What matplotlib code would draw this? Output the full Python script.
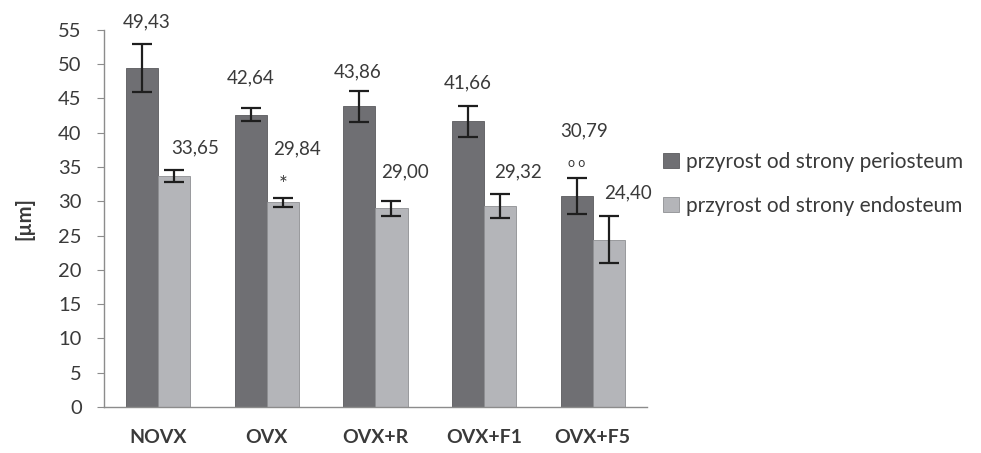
import numpy as np
import matplotlib.pyplot as plt

# growth measurements per group
groups = ['NOVX', 'OVX', 'OVX+R', 'OVX+F1', 'OVX+F5']
periosteum = [49.43, 42.64, 43.86, 41.66, 30.79]
periosteum_err = [3.5, 0.95, 2.25, 2.3, 2.6]
endosteum = [33.65, 29.84, 29.00, 29.32, 24.40]
endosteum_err = [0.9, 0.7, 1.1, 1.8, 3.4]
yticks = list(range(0, 56, 5))

# value label offsets (points) above the error bar tops
peri_off = [(3, 16), (0, 22), (-1, 14), (0, 16), (5, 34)]
endo_off = [(15, 16), (10, 35), (10, 21), (13, 16), (14, 17)]

dark = '#6f6f73'
light = '#b4b5b9'
txt = '#3a3a3a'

plt.rcParams['font.family'] = ['Lato', 'DejaVu Sans']

fig = plt.figure(figsize=(9.81, 4.53), dpi=100)
ax = fig.add_axes([0.106, 0.1015, 0.5535, 0.8325])

x = np.arange(len(groups))
w = 0.295
ekw = dict(ecolor='#1e1e1e', elinewidth=1.6, capsize=7, capthick=1.6)
b1 = ax.bar(x - w / 2, periosteum, w, yerr=periosteum_err, color=dark,
            edgecolor='#5a5a5e', linewidth=0.6, error_kw=ekw,
            label='przyrost od strony periosteum')
b2 = ax.bar(x + w / 2, endosteum, w, yerr=endosteum_err, color=light,
            edgecolor='#8e8f93', linewidth=0.6, error_kw=ekw,
            label='przyrost od strony endosteum')

for i in range(len(groups)):
    ax.annotate(f'{periosteum[i]:.2f}'.replace('.', ','),
                (x[i] - w / 2, periosteum[i] + periosteum_err[i]),
                xytext=peri_off[i], textcoords='offset points',
                ha='center', va='center', fontsize=13.5, color=txt)
    ax.annotate(f'{endosteum[i]:.2f}'.replace('.', ','),
                (x[i] + w / 2, endosteum[i] + endosteum_err[i]),
                xytext=endo_off[i], textcoords='offset points',
                ha='center', va='center', fontsize=13.5, color=txt)

# significance markers
ax.annotate('*', (x[1] + w / 2, endosteum[1] + endosteum_err[1]),
            xytext=(0, 9), textcoords='offset points', ha='center',
            va='center', fontsize=15, color=txt)
ax.annotate('o o', (x[4] - w / 2, periosteum[4] + periosteum_err[4]),
            xytext=(0, 11), textcoords='offset points', ha='center',
            va='center', fontsize=9, color=txt)

ax.set_xlim(-0.5, len(groups) - 0.5)
ax.set_ylim(0, 55)
ax.set_yticks(yticks)
ax.set_xticks(x)
ax.set_xticklabels(groups, fontweight='bold', fontsize=14, color=txt)
ax.tick_params(axis='x', length=0, pad=16)
ax.tick_params(axis='y', length=5, color='#8c8c8c', labelsize=14.5,
               labelcolor=txt, pad=11)
for s in ['top', 'right']:
    ax.spines[s].set_visible(False)
for s in ['left', 'bottom']:
    ax.spines[s].set_color('#8c8c8c')
    ax.spines[s].set_linewidth(1.0)
ax.set_ylabel('[µm]', fontweight='bold', fontsize=14.5, color=txt,
              labelpad=17)

ax.legend(loc='center left', bbox_to_anchor=(0.995, 0.592), frameon=False,
          fontsize=15, handlelength=0.75, handleheight=0.75,
          handletextpad=0.35, labelspacing=1.15, labelcolor=txt)

fig.savefig('out.png', dpi=100)
